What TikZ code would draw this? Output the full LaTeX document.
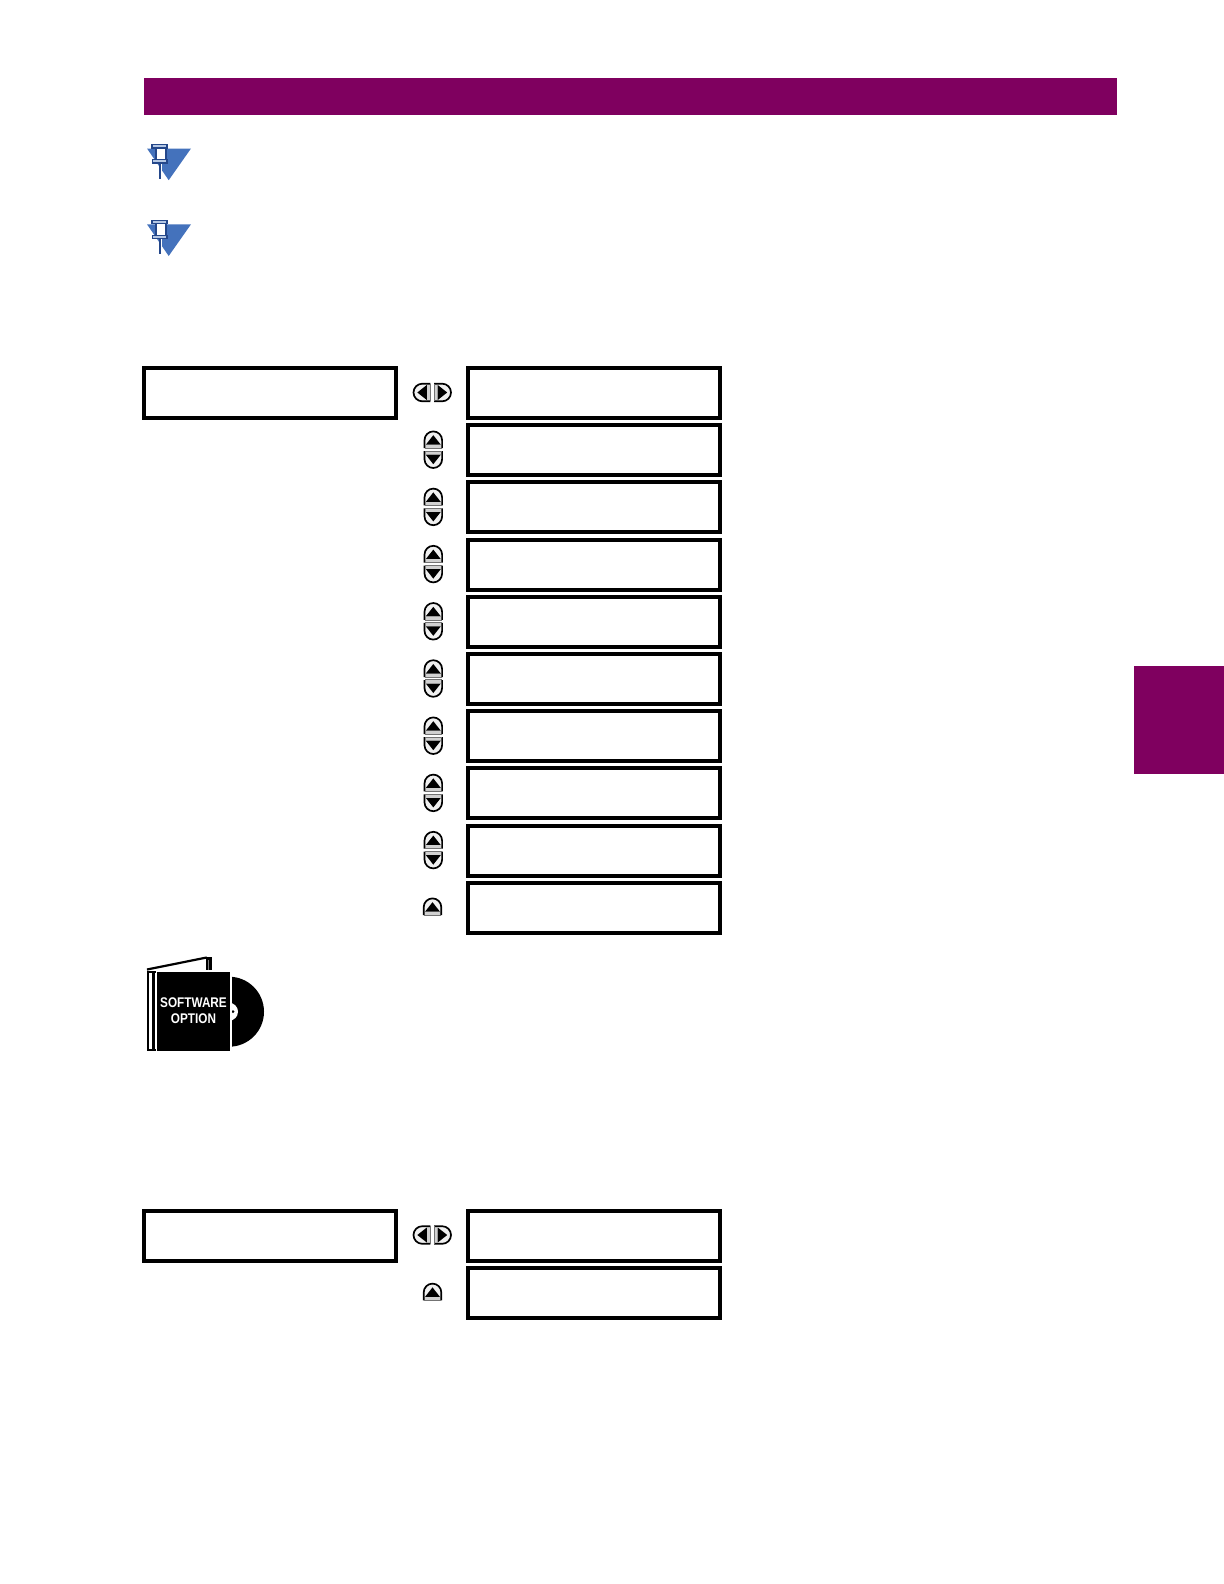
\documentclass[tikz,border=0pt]{standalone}
\usepackage{fontspec}
\setmainfont{Liberation Sans}
\definecolor{barcol}{HTML}{7F005F}
\definecolor{noteblue}{HTML}{4472BC}
\definecolor{pinblue}{HTML}{24478A}
\tikzset{
  x=0.5pt,y=-0.5pt,
  lcd/.style={draw=black,line width=2pt,fill=white,rectangle,inner sep=0pt,outer sep=0pt,anchor=north west,minimum height=25pt,minimum width=126pt},
  band/.style={rectangle,fill=barcol,inner sep=0pt,outer sep=0pt,anchor=north west},
  softlabel/.style={text=white,font=\bfseries\fontsize{7}{8}\selectfont,inner sep=0pt,transform shape,xscale=.84},
  keybtn/.pic={
    \fill[black!6] (-8.8,8) [rounded corners=4.4pt] -- (-8.8,-8.8) -- (8.8,-8.8) [sharp corners] -- (8.8,8) -- cycle;
    \fill[black!18] (-8.2,5) rectangle (8.2,8);
    \draw[line width=.85pt] (-8.8,8) [rounded corners=4.4pt] -- (-8.8,-8.8) -- (8.8,-8.8) [sharp corners] -- (8.8,8);
    \draw[line width=.5pt,black!55] (-8.8,8.2) -- (8.8,8.2);
    \fill[black] (-7.5,4.5) -- (7.5,4.5) -- (0,-5) -- cycle;
  },
  notepin/.pic={
    \fill[noteblue] (-21.7,-1) -- (22.3,-1) -- (0,30.7) -- cycle;
    \fill[white] (-10.2,12) rectangle (-6.6,30);
    \fill[pinblue] (-9.4,12) rectangle (-7.8,29);
    \draw[pinblue,line width=.6pt,fill=white] (-12.7,-2) rectangle (-2.7,10.5);
    \draw[pinblue,line width=.7pt,fill=noteblue!40] (-16.7,-5) rectangle (-1.7,-1.7);
    \draw[pinblue,line width=.7pt,fill=noteblue!40] (-16,10) rectangle (-1.7,13.3);
  }
}
\begin{document}
\begin{tikzpicture}
\useasboundingbox (0,0) rectangle (1224,1584);
\node[band,minimum width=486.5pt,minimum height=18.6pt] (topbar) at (143.5,78) {};
\node[band,minimum width=45pt,minimum height=54pt] (sidetab) at (1134,665.5) {};
\path (168.7,149.5) pic {notepin};
\path (168.7,225.3) pic {notepin};
% first menu
\node[lcd] (mainA) at (144,368) {};
\foreach \n/\yy in {1/368,2/425.2,3/482.4,4/539.6,5/596.8,6/654,7/711.2,8/768.4,9/825.6,10/882.8}{
  \node[lcd] (itemA\n) at (468,\yy) {};
}
\path (422.3,392.5) pic[rotate=90] {keybtn};
\path (442.2,392.5) pic[rotate=-90] {keybtn};
\foreach \yy in {423.2,480.4,537.6,594.8,652,709.2,766.4,823.6}{
  \path (433.3,\yy+17) pic {keybtn};
  \path (433.3,\yy+36) pic[rotate=180] {keybtn};
}
\path (432.5,907.2) pic {keybtn};
% software option icon
\fill[black] (229,1011.7) circle (35);
\fill[white] (228,970) rectangle (232,1055);
\fill[white] (229,1011.7) circle (9);
\fill[black] (233,1011.7) circle (1.5);
\fill[white] (200,965) rectangle (232,1055);
\fill[black] (157,971.7) rectangle (230,1050.7);
\draw[black,line width=1pt] (155.5,971.5) -- (148,971.5) -- (148,1050) -- (155.5,1050);
\fill[black] (152,971.7) rectangle (155,1050.7);
\draw[black,line width=1.1pt] (147,969.5) -- (206.7,957.5);
\fill[black] (205.8,957) rectangle (212.4,970);
\fill[black!50] (208,960) rectangle (209,970);
\node[softlabel] (softA) at (193.5,1003) {SOFTWARE};
\node[softlabel] (softB) at (193.5,1019) {OPTION};
% second menu
\node[lcd] (mainB) at (144,1210.5) {};
\node[lcd] (itemB1) at (468,1210.5) {};
\node[lcd] (itemB2) at (468,1268.2) {};
\path (422.3,1235) pic[rotate=90] {keybtn};
\path (442.2,1235) pic[rotate=-90] {keybtn};
\path (432.5,1292.4) pic {keybtn};
\end{tikzpicture}
\end{document}
